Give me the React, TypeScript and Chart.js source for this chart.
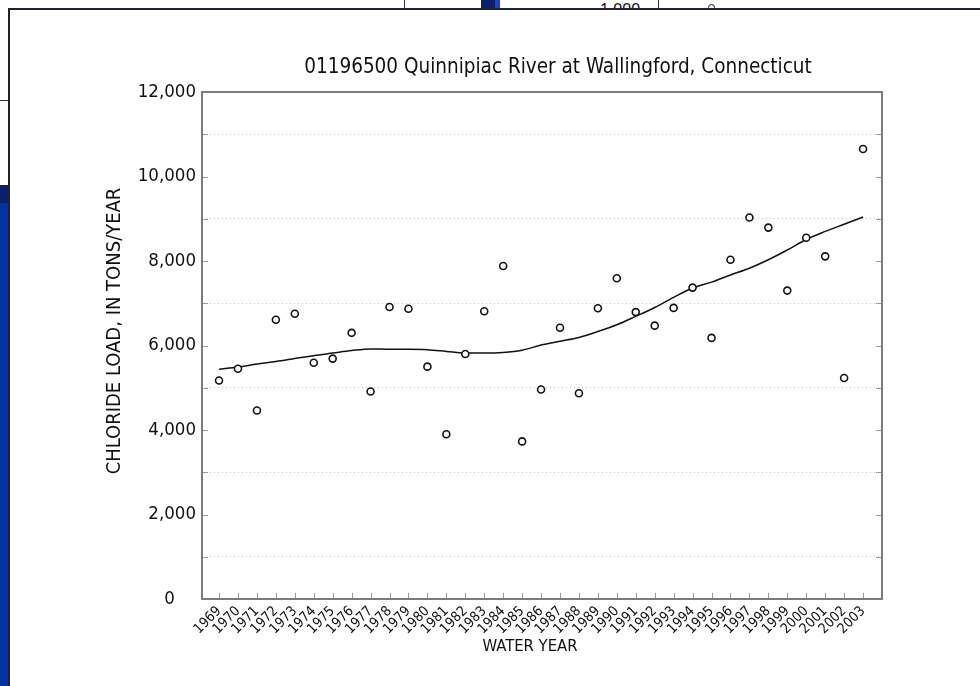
import React, { useEffect, useRef } from "react";
import { Chart, registerables } from "chart.js";

Chart.register(...registerables);

const years = [
  1969, 1970, 1971, 1972, 1973, 1974, 1975, 1976, 1977, 1978, 1979, 1980,
  1981, 1982, 1983, 1984, 1985, 1986, 1987, 1988, 1989, 1990, 1991, 1992,
  1993, 1994, 1995, 1996, 1997, 1998, 1999, 2000, 2001, 2002, 2003,
];

const chlorideLoad = [
  5170, 5450, 4460, 6610, 6750, 5590, 5690, 6300, 4910, 6910, 6870, 5500,
  3900, 5800, 6810, 7880, 3730, 4960, 6420, 4870, 6880, 7590, 6790, 6470,
  6890, 7370, 6180, 8030, 9030, 8790, 7300, 8550, 8110, 5230, 10650,
];

const lowessTrend = [
  5440, 5490, 5560, 5620, 5690, 5760, 5820, 5880, 5920, 5910, 5910, 5900,
  5860, 5820, 5820, 5835, 5890, 6010, 6100, 6190, 6330, 6490, 6690, 6900,
  7140, 7360, 7500, 7670, 7830, 8030, 8260, 8510, 8700, 8870, 9040,
];

const yTickValues = [
  0, 1000, 2000, 3000, 4000, 5000, 6000, 7000, 8000, 9000, 10000, 11000, 12000,
];

const chartTitle = "01196500 Quinnipiac River at Wallingford, Connecticut";
const yAxisTitle = "CHLORIDE LOAD, IN TONS/YEAR";
const xAxisTitle = "WATER YEAR";

const FONT = "'DejaVu Sans Condensed', 'Liberation Sans Narrow', sans-serif";

const decorPlugin = {
  id: "decor",
  afterDraw(chart: any) {
    const { ctx, chartArea: a, scales } = chart;
    ctx.save();
    // inward ticks
    ctx.strokeStyle = "#9a9a9a";
    ctx.lineWidth = 1;
    ctx.beginPath();
    for (const v of yTickValues) {
      const y = Math.round(scales.y.getPixelForValue(v)) + 0.5;
      ctx.moveTo(a.left, y);
      ctx.lineTo(a.left + 6, y);
      ctx.moveTo(a.right - 6, y);
      ctx.lineTo(a.right, y);
    }
    for (const yr of years) {
      const x = Math.round(scales.x.getPixelForValue(yr)) + 0.5;
      ctx.moveTo(x, a.bottom);
      ctx.lineTo(x, a.bottom - 6);
    }
    ctx.stroke();
    // frame
    ctx.strokeStyle = "#7c7c7c";
    ctx.lineWidth = 2;
    ctx.strokeRect(a.left, a.top, a.right - a.left, a.bottom - a.top);
    // titles
    ctx.fillStyle = "#111";
    ctx.textAlign = "center";
    ctx.textBaseline = "middle";
    ctx.font = `20.5px ${FONT}`;
    ctx.fillText(chartTitle, 558, 68);
    ctx.font = `16.5px ${FONT}`;
    ctx.fillText(xAxisTitle, 530, 647);
    ctx.save();
    ctx.translate(115, 331);
    ctx.rotate(-Math.PI / 2);
    ctx.font = `20px ${FONT}`;
    ctx.fillText(yAxisTitle, 0, 0);
    ctx.restore();
    ctx.restore();
  },
};

function ChlorideChart() {
  const ref = useRef<HTMLCanvasElement | null>(null);
  useEffect(() => {
    if (!ref.current) return;
    const chart = new Chart(ref.current, {
      type: "line",
      data: {
        datasets: [
          {
            label: "Chloride load",
            data: years.map((yr, i) => ({ x: yr, y: chlorideLoad[i] })),
            showLine: false,
            pointRadius: 3.5,
            pointBorderWidth: 1.6,
            pointBorderColor: "#111",
            pointBackgroundColor: "#fff",
            order: 0,
          },
          {
            label: "Trend",
            data: years.map((yr, i) => ({ x: yr, y: lowessTrend[i] })),
            borderColor: "#111",
            borderWidth: 1.5,
            pointRadius: 0,
            cubicInterpolationMode: "monotone",
            fill: false,
            order: 1,
          },
        ],
      },
      options: {
        responsive: false,
        animation: false,
        layout: { padding: { left: 0, top: 92, right: 98, bottom: 0 } },
        plugins: {
          legend: { display: false },
          tooltip: { enabled: false },
          title: { display: false },
        },
        scales: {
          x: {
            type: "linear",
            min: 1968.1,
            max: 2004,
            afterBuildTicks: (s: any) => {
              s.ticks = years.map((v) => ({ value: v }));
            },
            afterFit: (s: any) => {
              s.height = 87;
            },
            grid: { display: false, drawTicks: false },
            border: { display: false },
            ticks: {
              autoSkip: false,
              minRotation: 45,
              maxRotation: 45,
              padding: 4,
              color: "#111",
              font: { family: FONT, size: 14 },
              callback: (v: any) => String(v),
            },
          },
          y: {
            type: "linear",
            min: 0,
            max: 12000,
            afterBuildTicks: (s: any) => {
              s.ticks = yTickValues.map((v) => ({ value: v }));
            },
            afterFit: (s: any) => {
              s.width = 202;
            },
            grid: {
              drawTicks: false,
              lineWidth: 1,
              color: (c: any) =>
                c.tick && c.tick.value % 2000 === 1000
                  ? "#c4c4c4"
                  : "rgba(0,0,0,0)",
            },
            border: { display: false, dash: [1, 3] },
            ticks: {
              padding: 6,
              color: "#111",
              font: { family: FONT, size: 18.5 },
              callback: (v: any) => {
                const n = Number(v);
                if (n % 2000 !== 0) return "";
                return n === 0 ? "0    " : n.toLocaleString("en-US");
              },
            },
          },
        },
      },
      plugins: [decorPlugin],
    } as any);
    return () => chart.destroy();
  }, []);
  return (
    <canvas
      ref={ref}
      width={980}
      height={686}
      style={{ position: "absolute", left: 0, top: 0, width: 980, height: 686 }}
    />
  );
}

export default function App() {
  return (
    <div
      style={{
        position: "fixed",
        left: 0,
        top: 0,
        width: 980,
        height: 686,
        overflow: "hidden",
        background: "#fff",
      }}
    >
      {/* background figure peeking out */}
      <div style={{ position: "absolute", left: 0, top: 100, width: 8, height: 1, background: "#333" }} />
      <div style={{ position: "absolute", left: 0, top: 185, width: 9, height: 18, background: "#0b1f6b" }} />
      <div style={{ position: "absolute", left: 0, top: 203, width: 9, height: 483, background: "#0533a0" }} />
      <div style={{ position: "absolute", left: 404, top: 0, width: 1, height: 8, background: "#333" }} />
      <div style={{ position: "absolute", left: 481, top: 0, width: 14, height: 8, background: "#0b1f6b" }} />
      <div style={{ position: "absolute", left: 495, top: 0, width: 5, height: 8, background: "#1a44c0" }} />
      <div style={{ position: "absolute", left: 658, top: 0, width: 1, height: 8, background: "#333" }} />
      <div
        style={{
          position: "absolute",
          left: 600,
          top: 2,
          fontFamily: "'Liberation Sans', sans-serif",
          fontSize: 16,
          lineHeight: "16px",
          color: "#111",
        }}
      >
        1,000
      </div>
      <div
        style={{
          position: "absolute",
          left: 708,
          top: 4,
          width: 7,
          height: 7,
          borderRadius: "50%",
          border: "1.5px solid #111",
          boxSizing: "border-box",
        }}
      />
      {/* popup window */}
      <div
        style={{
          position: "absolute",
          left: 8,
          top: 8,
          width: 972,
          height: 678,
          background: "#fff",
          borderTop: "2px solid #1e2233",
          borderLeft: "2px solid #1e2233",
          boxSizing: "border-box",
        }}
      />
      <ChlorideChart />
    </div>
  );
}
